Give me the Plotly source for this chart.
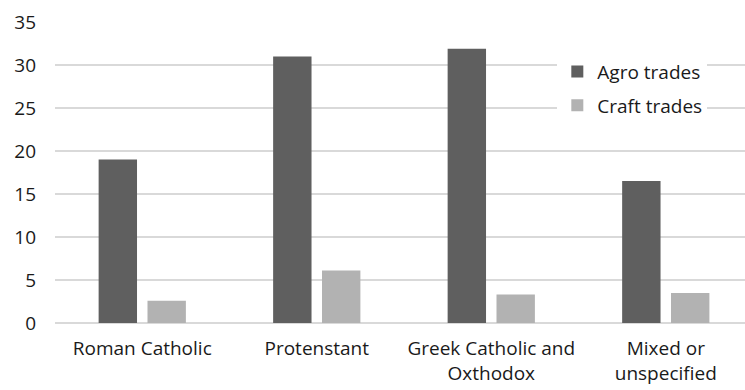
import plotly.graph_objects as go

categories = ["Roman Catholic", "Protenstant", "Greek Catholic and<br>Oxthodox", "Mixed or<br>unspecified"]
agro_trades = [19.0, 31.0, 31.9, 16.5]
craft_trades = [2.6, 6.1, 3.3, 3.5]
y_ticks = [0, 5, 10, 15, 20, 25, 30, 35]

FONT = "Open Sans"
FS = 19

fig = go.Figure()
fig.add_trace(go.Bar(x=categories, y=agro_trades, name="Agro trades",
                     marker=dict(color="#5f5f5f", line=dict(width=0)),
                     width=0.22, offset=-0.25, legendgroup="a"))
fig.add_trace(go.Bar(x=categories, y=craft_trades, name="Craft trades",
                     marker=dict(color="#b2b2b2", line=dict(width=0)),
                     width=0.22, offset=0.03, legendgroup="b"))

fig.update_layout(
    width=745, height=390,
    margin=dict(l=55, r=0, t=22, b=67),
    paper_bgcolor="white", plot_bgcolor="white",
    barmode="overlay",
    font=dict(family=FONT, size=FS, color="#1a1a1a"),
    showlegend=True,
    legend=dict(x=0.728, y=0.898, xanchor="left", yanchor="top",
                bgcolor="white", borderwidth=0,
                font=dict(family=FONT, size=FS, color="#1a1a1a"),
                traceorder="grouped", tracegroupgap=6,
                itemwidth=30),
    xaxis=dict(type="category", range=[-0.5, 3.454], showgrid=False,
               showline=False, zeroline=False, ticks="",
               tickfont=dict(family=FONT, size=FS, color="#1a1a1a"),
               ticklabelstandoff=12),
    yaxis=dict(range=[0, 35], tickvals=y_ticks, showgrid=True,
               gridcolor="#d9d9d9", gridwidth=1.5, zeroline=True,
               zerolinecolor="#d9d9d9", zerolinewidth=1.5, showline=False,
               ticks="", tickfont=dict(family=FONT, size=FS, color="#1a1a1a"),
               ticklabelstandoff=18),
)

fig.write_html("out.html")
